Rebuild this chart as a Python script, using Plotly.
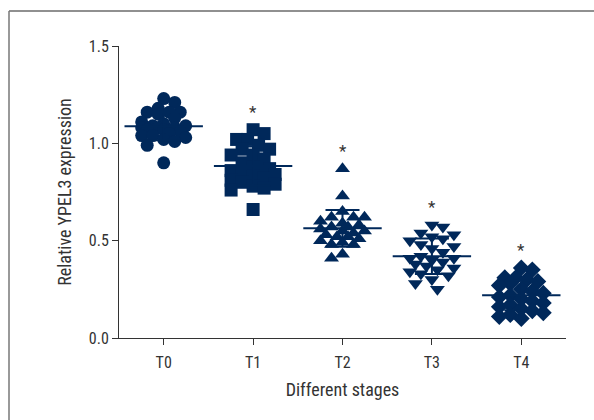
import numpy as np
import plotly.graph_objects as go

# ---- data ----
categories = ["T0", "T1", "T2", "T3", "T4"]
t0_values = [1.23, 1.21, 1.18, 1.16, 1.16, 1.16, 1.15, 1.13, 1.11, 1.10, 1.09, 1.09, 1.08,
             1.08, 1.08, 1.07, 1.07, 1.06, 1.05, 1.04, 1.04, 1.03, 1.02, 1.01, 0.99, 0.90]
t1_values = [1.07, 1.05, 1.02, 1.02, 0.99, 0.97, 0.97, 0.94, 0.94, 0.92, 0.90, 0.88, 0.87,
             0.86, 0.85, 0.85, 0.84, 0.83, 0.82, 0.81, 0.80, 0.79, 0.78, 0.77, 0.76, 0.66]
t2_values = [0.87, 0.73, 0.65, 0.62, 0.62, 0.62, 0.60, 0.59, 0.58, 0.57, 0.57, 0.56, 0.55,
             0.55, 0.54, 0.53, 0.52, 0.52, 0.51, 0.50, 0.49, 0.48, 0.48, 0.43, 0.41]
t3_values = [0.58, 0.57, 0.54, 0.53, 0.52, 0.51, 0.50, 0.48, 0.47, 0.46, 0.44, 0.42, 0.41,
             0.41, 0.40, 0.39, 0.38, 0.37, 0.36, 0.35, 0.34, 0.33, 0.32, 0.30, 0.28, 0.25]
t4_values = [0.36, 0.35, 0.31, 0.31, 0.30, 0.29, 0.28, 0.27, 0.25, 0.24, 0.23, 0.22, 0.21,
             0.20, 0.19, 0.18, 0.17, 0.16, 0.15, 0.14, 0.13, 0.12, 0.11, 0.10]
significance = ["", "*", "*", "*", "*"]
y_ticks = [0.0, 0.5, 1.0, 1.5]

groups = [t0_values, t1_values, t2_values, t3_values, t4_values]
symbols = ["circle", "square", "triangle-up", "triangle-down", "diamond"]
NAVY = "#00285a"
TEXT = "#333333"
FONT = "Liberation Sans Narrow, Roboto Condensed, Arial Narrow, sans-serif"

# plot geometry (px) used for a simple beeswarm layout of the dots
W, H = 594, 420
ML, MR, MT, MB = 119, 28, 46, 82
PW, PH = W - ML - MR, H - MT - MB
X_RANGE = (-0.5, 4.5)
Y_RANGE = (0.0, 1.5)
px_per_x = PW / (X_RANGE[1] - X_RANGE[0])
px_per_y = PH / (Y_RANGE[1] - Y_RANGE[0])


def beeswarm(vals, dmin=11.0, step=5.5, maxoff=22.0):
    order = np.argsort(vals)[::-1]
    placed = []
    offs = np.zeros(len(vals))
    for n, i in enumerate(order):
        yp = vals[i] * px_per_y
        best, best_cost = 0.0, None
        k = 0
        while k * step <= maxoff:
            cands = [0.0] if k == 0 else ([k * step, -k * step] if n % 2 else [-k * step, k * step])
            found = None
            for c in cands:
                dmin_found = min([((c - px) ** 2 + (yp - py) ** 2) ** 0.5 for px, py in placed] or [1e9])
                if dmin_found >= dmin:
                    found = c
                    break
                if best_cost is None or dmin_found > best_cost:
                    best, best_cost = c, dmin_found
            if found is not None:
                best = found
                break
            k += 1
        placed.append((best, yp))
        offs[i] = best / px_per_x
    return offs


fig = go.Figure()
for gi, (vals, sym) in enumerate(zip(groups, symbols)):
    vals = np.array(vals)
    xs = gi + beeswarm(vals)
    fig.add_trace(go.Scatter(
        x=xs, y=vals, mode="markers",
        marker=dict(symbol=sym, size=13, color=NAVY, line=dict(width=0)),
        showlegend=False, hoverinfo="y"))

# mean line and SD error bars
for gi, vals in enumerate(groups):
    m = float(np.mean(vals))
    sd = float(np.std(vals, ddof=1))
    fig.add_trace(go.Scatter(
        x=[gi], y=[m], mode="markers",
        marker=dict(symbol="line-ew-open", size=56, color=NAVY, line=dict(width=2, color=NAVY)),
        error_y=dict(type="data", array=[sd], visible=True, color=NAVY, thickness=2, width=17),
        showlegend=False, hoverinfo="skip"))

# significance markers
for gi, (vals, s) in enumerate(zip(groups, significance)):
    if s:
        fig.add_annotation(x=gi, y=max(vals), text=s, showarrow=False, yshift=18,
                           font=dict(family=FONT, size=17, color=TEXT))

# outer frame (top and left edges)
x0p = (9 - ML) / PW
x1p = (W - ML) / PW
ytop = (H - MB - 11) / PH
ybot = (H - MB - H) / PH
fig.add_shape(type="line", xref="paper", yref="paper", x0=x0p, x1=x1p, y0=ytop, y1=ytop,
              line=dict(color="#222222", width=1.2))
fig.add_shape(type="line", xref="paper", yref="paper", x0=x0p, x1=x0p, y0=ytop, y1=ybot,
              line=dict(color="#777777", width=1.5))

fig.update_layout(
    width=W, height=H,
    margin=dict(l=ML, r=MR, t=MT, b=MB),
    paper_bgcolor="white", plot_bgcolor="white",
    font=dict(family=FONT, size=15, color=TEXT),
    xaxis=dict(range=list(X_RANGE), tickvals=list(range(len(categories))), ticktext=categories,
               showgrid=False, zeroline=False, showline=True, linecolor=TEXT, linewidth=1,
               ticks="outside", ticklen=6, tickcolor=TEXT, automargin=False,
               tickfont=dict(size=16), ticklabelstandoff=4,
               title=dict(text="Different stages", standoff=12)),
    yaxis=dict(range=list(Y_RANGE), tickvals=y_ticks, tickformat=".1f",
               showgrid=False, zeroline=False, showline=True, linecolor=TEXT, linewidth=1,
               ticks="outside", ticklen=6, tickcolor=TEXT, automargin=False,
               tickfont=dict(size=16),
               title=dict(text="Relative YPEL3 expression", standoff=12)),
)

fig.write_html("out.html", config={"displayModeBar": False},
               post_script="document.body.style.margin='0';")
